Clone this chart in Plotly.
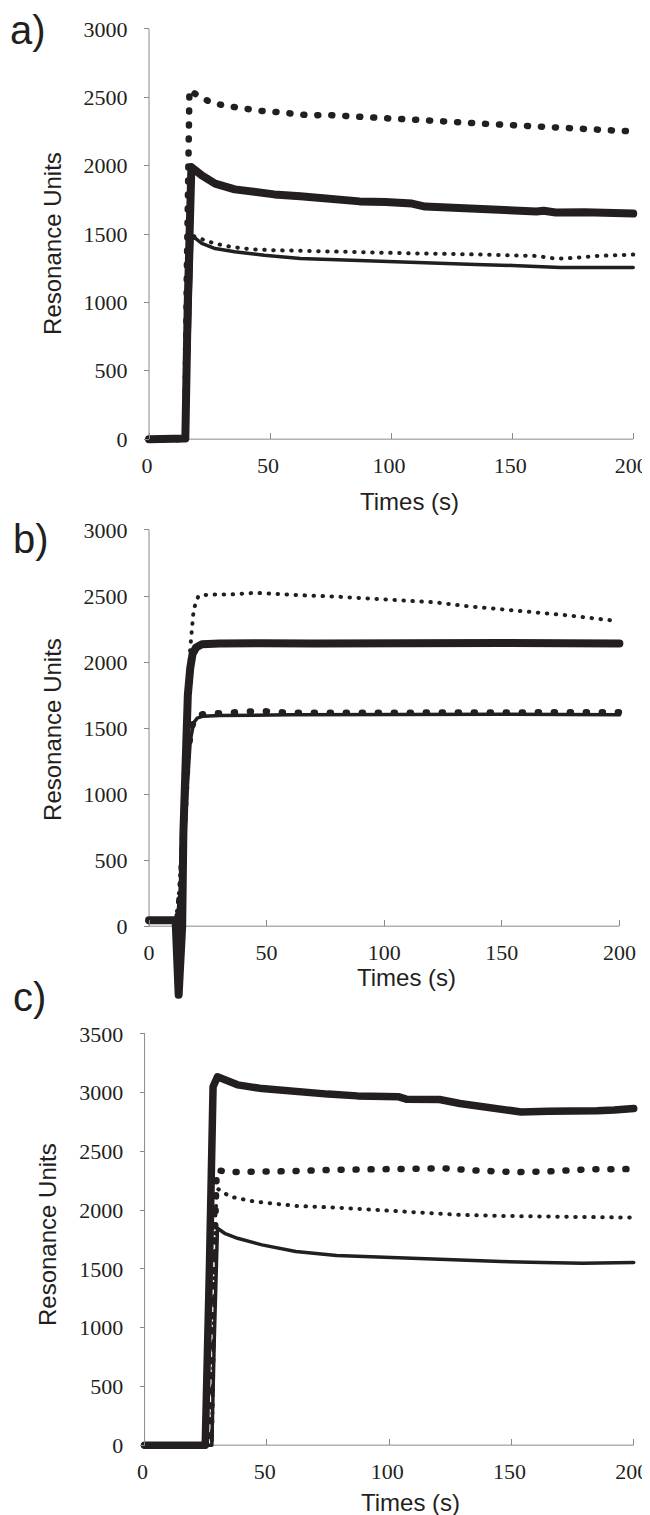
import plotly.graph_objects as go

# ---------------- data ----------------
# panel a
a_big_dots_t = [0, 15, 15.6, 16.7, 20.7, 26, 31.7, 37, 41, 46, 51.7, 57, 61.4, 67, 72.8, 78, 84, 90, 95.6, 101.7, 108, 113.5, 125, 140, 155, 170, 185, 200]
a_big_dots_v = [0, 0, 1200, 2555, 2506, 2460, 2438, 2423, 2409, 2401, 2394, 2387, 2374, 2367, 2372, 2365, 2358, 2350, 2350, 2343, 2338, 2331, 2320, 2305, 2292, 2280, 2265, 2250]
a_thick_t = [0, 15, 16, 17.5, 21.8, 27.3, 35.4, 43.5, 51.7, 62.5, 68, 69, 76, 87, 97.7, 108.6, 114, 125, 140, 150, 160, 163, 168, 180, 200]
a_thick_v = [0, 5, 1000, 1990, 1929, 1869, 1827, 1803, 1790, 1776, 1766, 1775, 1759, 1739, 1735, 1723, 1701, 1690, 1680, 1672, 1665, 1670, 1658, 1660, 1650]
a_thin_t = [0, 15, 16.5, 17.8, 21.8, 27.3, 35.4, 47.6, 62.5, 81.5, 103, 117, 135, 150, 165, 170, 185, 200]
a_thin_v = [0, 0, 700, 1489, 1431, 1394, 1370, 1345, 1321, 1309, 1292, 1285, 1278, 1270, 1262, 1255, 1256, 1255]
a_small_dots_t = [0, 15, 16.5, 17.5, 23, 27, 34, 42, 51.7, 65, 78.8, 92, 111, 130, 150, 160, 168, 175, 185, 200]
a_small_dots_v = [0, 0, 800, 1491, 1455, 1431, 1406, 1389, 1382, 1375, 1370, 1365, 1358, 1353, 1348, 1340, 1320, 1325, 1340, 1350]

# panel b
b_thick_t = [0, 11.3, 12.6, 14.1, 14.6, 15.5, 16.5, 17.5, 18.5, 20, 22.5, 30, 44, 46, 48, 70, 100, 150, 200]
b_thick_v = [45, 45, -520, 0, 700, 1300, 1750, 1950, 2060, 2110, 2134, 2140, 2143, 2155, 2143, 2140, 2145, 2145, 2140]
b_small_dots_t = [0, 11.5, 13, 14.5, 16, 17.5, 19, 21, 25, 35, 45, 55, 66, 80, 95, 107.8, 121.6, 135.7, 149.7, 163.5, 177.6, 191.6, 199]
b_small_dots_v = [45, 45, 300, 900, 1600, 2100, 2400, 2500, 2510, 2512, 2524, 2512, 2505, 2495, 2482, 2470, 2452, 2422, 2402, 2377, 2354, 2326, 2311]
b_thin_t = [0, 12, 14, 16, 17.5, 19, 20.5, 23, 30, 60, 100, 150, 200]
b_thin_v = [45, 45, 400, 1000, 1400, 1540, 1575, 1590, 1595, 1600, 1605, 1605, 1600]
b_big_dots_t = [0, 12, 13.5, 15, 16.5, 18, 20, 23, 30, 45, 47, 60, 100, 150, 170, 190, 200]
b_big_dots_v = [45, 45, 300, 900, 1300, 1500, 1590, 1605, 1610, 1620, 1630, 1615, 1620, 1620, 1625, 1620, 1620]

# panel c
c_thick_t = [0, 24.8, 26.5, 28, 29.8, 33, 38, 48, 61.8, 75, 87, 104, 107, 120.6, 128.9, 137, 145.8, 154, 165, 175, 185, 192, 200]
c_thick_v = [0, 0, 1500, 3050, 3135, 3105, 3067, 3035, 3007, 2988, 2973, 2965, 2945, 2942, 2908, 2888, 2857, 2836, 2843, 2840, 2846, 2852, 2866]
c_big_dots_t = [0, 27, 28, 29, 29.5, 35, 43, 60, 75, 90, 105.6, 122, 136, 152.5, 165, 182, 200]
c_big_dots_v = [0, 0, 1200, 2200, 2340, 2325, 2325, 2332, 2342, 2345, 2348, 2357, 2337, 2324, 2330, 2348, 2350]
c_small_dots_t = [0, 27.5, 28.3, 29, 30, 35, 45, 62, 78.5, 95, 112, 129, 145.8, 162.6, 179, 198.6]
c_small_dots_v = [0, 0, 1000, 2000, 2180, 2115, 2073, 2036, 2022, 2002, 1982, 1960, 1951, 1945, 1945, 1937]
c_thin_t = [0, 27.5, 28.5, 29.8, 33, 38, 48, 61.8, 78.5, 95, 112, 129, 145.8, 162.6, 179, 200]
c_thin_v = [0, 0, 900, 1846, 1800, 1761, 1705, 1648, 1614, 1600, 1591, 1577, 1563, 1555, 1549, 1555]

x_ticks = [0, 50, 100, 150, 200]
y_ticks_ab = [0, 500, 1000, 1500, 2000, 2500, 3000]
y_ticks_c = [0, 500, 1000, 1500, 2000, 2500, 3000, 3500]
panel_labels = ["a)", "b)", "c)"]
x_title = "Times (s)"
y_title = "Resonance Units"

# ---------------- layout geometry (pixels) ----------------
W, H = 650, 1515
INK = "#231f20"
AXC = "#8a8a8a"
SERIF = "Liberation Serif, Times New Roman, Times, serif"
SANS = "Liberation Sans, Arial, Helvetica, sans-serif"

panels = [
    dict(px0=143, px200=634, py0=431, pytop=20, ytop=3000, xr=[-5, 203], yr=[-90, 3100], lshift=-2),
    dict(px0=143, px200=620, py0=919, pytop=522, ytop=3000, xr=[-5, 203], yr=[-600, 3150], lshift=0),
    dict(px0=138.5, px200=634.5, py0=1439, pytop=1027, ytop=3500, xr=[-5, 203], yr=[-90, 3600], lshift=-2),
]

# line styles: (width, dash) ; dotted lines get round caps -> round dots
THIN = (3.5, None)
THICK = (8, None)
BIGDOT = (6.5, "1px,13px")
SMALLDOT = (4, "0.5px,8.5px")

fig = go.Figure()
layout = dict(width=W, height=H, margin=dict(l=0, r=0, t=0, b=0),
              paper_bgcolor="white", plot_bgcolor="white", showlegend=False)
shapes = []
annotations = []

series = [
    [(a_thin_t, a_thin_v, THIN), (a_small_dots_t, a_small_dots_v, SMALLDOT),
     (a_thick_t, a_thick_v, THICK), (a_big_dots_t, a_big_dots_v, BIGDOT)],
    [(b_thin_t, b_thin_v, THIN), (b_big_dots_t, b_big_dots_v, (6.5, "1px,15px")),
     (b_small_dots_t, b_small_dots_v, SMALLDOT), (b_thick_t, b_thick_v, THICK)],
    [(c_thin_t, c_thin_v, THIN), (c_small_dots_t, c_small_dots_v, SMALLDOT),
     (c_big_dots_t, c_big_dots_v, (6.5, "1px,14px")), (c_thick_t, c_thick_v, (7.5, None))],
]
title_pos = [
    dict(lab=(0, 21), xt=(407, 493), yt=(45, 235)),
    dict(lab=(3, 531), xt=(404, 970), yt=(45, 722)),
    dict(lab=(3, 990), xt=(408, 1496), yt=(40, 1228)),
]

def clamp(v):
    return max(0.0, min(1.0, v))

for i, p in enumerate(panels):
    sx = (p["px200"] - p["px0"]) / 200.0
    sy = (p["py0"] - p["pytop"]) / p["ytop"]
    xl_px = p["px0"] + p["xr"][0] * sx
    xh_px = p["px0"] + p["xr"][1] * sx
    yb_px = p["py0"] - p["yr"][0] * sy
    yt_px = p["py0"] - p["yr"][1] * sy
    sfx = "" if i == 0 else str(i + 1)
    yticks = y_ticks_c if i == 2 else y_ticks_ab
    layout["xaxis" + sfx] = dict(
        domain=[clamp(xl_px / W), clamp(xh_px / W)], range=p["xr"], anchor="free",
        position=1 - p["py0"] / H, showgrid=False, zeroline=False, showline=False,
        tickvals=x_ticks, ticks="inside", ticklen=6, tickwidth=1, tickcolor=AXC,
        tickfont=dict(family=SERIF, size=22, color=INK),
        ticklabelstandoff=11, ticklabelshift=p["lshift"],
    )
    layout["yaxis" + sfx] = dict(
        domain=[clamp(1 - yb_px / H), clamp(1 - yt_px / H)], range=p["yr"], anchor="free",
        position=p["px0"] / W, showgrid=False, zeroline=False, showline=False,
        tickvals=yticks, ticks="outside", ticklen=5, tickwidth=1, tickcolor=AXC,
        tickfont=dict(family=SERIF, size=22, color=INK),
        ticklabelstandoff=12,
    )
    xr_ = "x" + sfx
    yr_ = "y" + sfx
    shapes.append(dict(type="line", xref=xr_, yref=yr_, x0=0, x1=0, y0=0, y1=p["ytop"],
                       line=dict(color=AXC, width=1), layer="below"))
    shapes.append(dict(type="line", xref=xr_, yref=yr_, x0=0, x1=200, y0=0, y1=0,
                       line=dict(color=AXC, width=1), layer="below"))
    for (t, v, (w, dash)) in series[i]:
        line = dict(color=INK, width=w)
        if dash:
            line["dash"] = dash
        fig.add_trace(go.Scatter(x=t, y=v, mode="lines", line=line,
                                 xaxis=xr_, yaxis=yr_, hoverinfo="skip"))
    tp = title_pos[i]
    annotations.append(dict(text=panel_labels[i], xref="paper", yref="paper",
                            x=tp["lab"][0] / W, y=1 - tp["lab"][1] / H, xanchor="left", yanchor="middle",
                            showarrow=False, font=dict(family=SANS, size=40, color=INK)))
    annotations.append(dict(text=x_title, xref="paper", yref="paper",
                            x=tp["xt"][0] / W, y=1 - tp["xt"][1] / H, xanchor="center", yanchor="middle",
                            showarrow=False, font=dict(family=SANS, size=24, color=INK)))
    annotations.append(dict(text=y_title, xref="paper", yref="paper", textangle=-90,
                            x=tp["yt"][0] / W, y=1 - tp["yt"][1] / H, xanchor="center", yanchor="middle",
                            showarrow=False, font=dict(family=SANS, size=24, color=INK)))

layout["shapes"] = shapes
layout["annotations"] = annotations
fig.update_layout(**layout)

# round line caps so the dotted dash pattern draws round dots, as in the original figure
post = """
var gd = document.getElementById('{plot_id}');
function roundCaps(){
  gd.querySelectorAll('path.js-line').forEach(function(p){
    p.style.strokeLinecap = 'round';
    p.style.strokeLinejoin = 'round';
  });
}
roundCaps();
setTimeout(roundCaps, 30);
setTimeout(roundCaps, 300);
if (gd.on) { gd.on('plotly_afterplot', roundCaps); }
"""
fig.write_html("out.html", post_script=post)
